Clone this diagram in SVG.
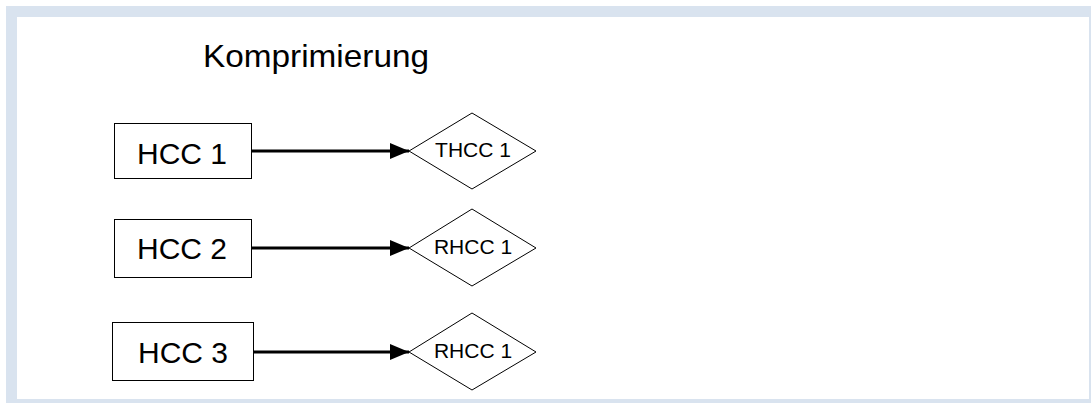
<svg xmlns="http://www.w3.org/2000/svg" width="1091" height="403" viewBox="0 0 1091 403">
  <style>
    .box { fill: #ffffff; stroke: #000000; stroke-width: 1; }
    .dia { fill: #ffffff; stroke: #000000; stroke-width: 1; }
    .big { font-family: "Liberation Sans", Arial, sans-serif; font-size: 30px; fill: #000000; text-anchor: middle; }
    .small { font-family: "Liberation Sans", Arial, sans-serif; font-size: 21px; fill: #000000; text-anchor: middle; }
    .conn { stroke: #000000; stroke-width: 3; fill: none; }
  </style>
  <defs>
    <marker id="arrow" markerUnits="userSpaceOnUse" markerWidth="20" markerHeight="16" refX="19" refY="8" orient="auto">
      <path d="M0,0 L19,8 L0,16 z" fill="#000000"/>
    </marker>
  </defs>
  <rect x="0" y="0" width="1091" height="403" fill="#ffffff"/>
  <rect x="6" y="6" width="1085" height="397" fill="#d9e3ef"/>
  <rect x="17" y="17" width="1072" height="382" fill="#ffffff"/>

  <text id="title" x="203" y="67" font-family="Liberation Sans, Arial, sans-serif" font-size="30.5" textLength="226" lengthAdjust="spacingAndGlyphs">Komprimierung</text>

  <g id="connectors">
    <line class="conn" x1="252" y1="151" x2="409" y2="151" marker-end="url(#arrow)"/>
    <line class="conn" x1="251" y1="248" x2="409" y2="248" marker-end="url(#arrow)"/>
    <line class="conn" x1="254" y1="352" x2="409" y2="352" marker-end="url(#arrow)"/>
  </g>

  <g id="hcc1">
    <rect class="box" x="114.5" y="123.5" width="137" height="55"/>
    <text class="big" x="182" y="164">HCC 1</text>
  </g>
  <g id="hcc2">
    <rect class="box" x="114.5" y="219.5" width="137" height="58"/>
    <text class="big" x="182" y="259">HCC 2</text>
  </g>
  <g id="hcc3">
    <rect class="box" x="112.5" y="322.5" width="141" height="58"/>
    <text class="big" x="183" y="363">HCC 3</text>
  </g>

  <g id="thcc1">
    <polygon class="dia" points="409,151 472,113 536,151 472,189"/>
    <text class="small" x="473" y="157">THCC 1</text>
  </g>
  <g id="rhcc1a">
    <polygon class="dia" points="409,248 472,209 536,248 472,286"/>
    <text class="small" x="473" y="254">RHCC 1</text>
  </g>
  <g id="rhcc1b">
    <polygon class="dia" points="409,352 472,313 536,352 472,390"/>
    <text class="small" x="473" y="358">RHCC 1</text>
  </g>
</svg>
